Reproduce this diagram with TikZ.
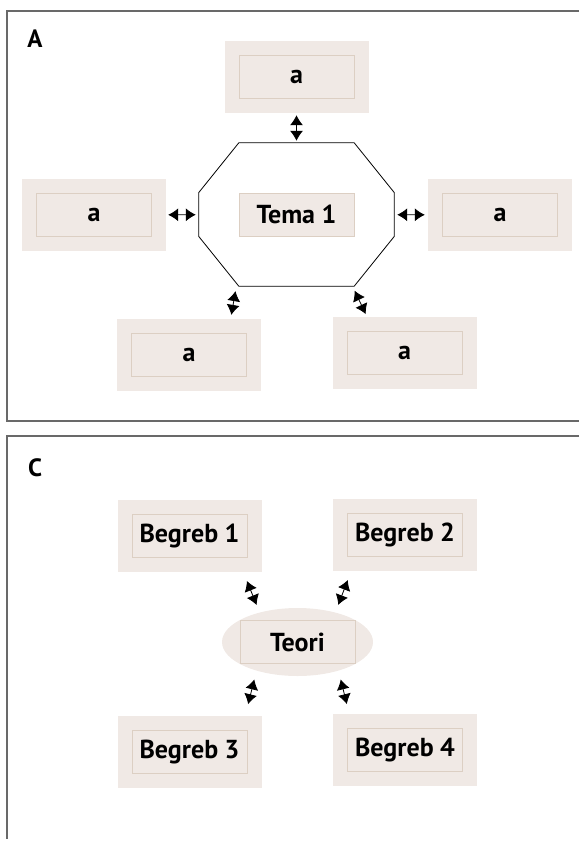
\documentclass[tikz,border=0pt]{standalone}
\usepackage{fontspec}
\setmainfont{PT Sans}
\usetikzlibrary{arrows.meta,calc,shapes.geometric}
\definecolor{boxfill}{RGB}{240,233,229}
\definecolor{boxline}{RGB}{220,207,195}
\definecolor{framegray}{RGB}{105,105,105}

\begin{document}
\begin{tikzpicture}[>={Latex[length=10pt,width=13pt]}, shorten >=2pt, shorten <=2pt,
	outer/.style={rectangle,fill=boxfill,minimum width=144pt,minimum height=72pt,inner sep=0pt},
	inner/.style={rectangle,draw=boxline,fill=boxfill,minimum width=115pt,minimum height=43pt,inner sep=0pt,font=\fontsize{26}{30}\selectfont\bfseries},
	panel/.style={font=\fontsize{25}{30}\selectfont\bfseries},
	frame/.style={draw=framegray,line width=1.5pt},
	link/.style={<->,line width=0.8pt},
	]
	
	\useasboundingbox (0pt,0pt) rectangle (581pt,-841pt);
	
	% panel A
	\draw[frame] (581pt,-11pt) -- (7pt,-11pt) -- (7pt,-421pt) -- (581pt,-421pt);
	\node[panel] (labA) at (35pt,-39pt) {A};
	\node[rectangle, minimum width=195pt, minimum height=143pt, inner sep=0pt] (oct) at (296.5pt,-214.5pt) {};
	\draw[line width=0.8pt] ($(oct.north west)+(40pt,0)$) -- ($(oct.north east)+(-40pt,0)$)
		-- ($(oct.east)+(0,22pt)$) -- ($(oct.east)+(0,-22pt)$)
		-- ($(oct.south east)+(-40pt,0)$) -- ($(oct.south west)+(40pt,0)$)
		-- ($(oct.west)+(0,-22pt)$) -- ($(oct.west)+(0,22pt)$) -- cycle;
	\node[inner] (tema) at (oct) {Tema 1};
	\node[outer] (top) at (296.5pt,-77pt) {};
	\node[inner] (topa) at (top) {a};
	\node[outer] (left) at (94pt,-215pt) {};
	\node[inner] (lefta) at (left) {a};
	\node[outer] (right) at (500pt,-215pt) {};
	\node[inner] (righta) at (right) {a};
	\node[outer] (bl) at (189pt,-355pt) {};
	\node[inner] (bla) at (bl) {a};
	\node[outer] (br) at (404.5pt,-353pt) {};
	\node[inner] (bra) at (br) {a};
	\draw[link] (top) -- (oct);
	\draw[link,shorten >=3pt] (left) -- (oct);
	\draw[link,shorten <=3pt,shorten >=3pt] (right) -- (oct);
	\draw[link,shorten <=5pt,shorten >=4pt] (oct.230) -- (bl.41);
	\draw[link,shorten <=5pt,shorten >=3pt] (oct.-52) -- (br.136);
	
	% panel C
	\draw[frame] (581pt,-436pt) -- (7pt,-436pt) -- (7pt,-841pt);
	\node[panel] (labC) at (35pt,-468pt) {C};
	\node[ellipse, fill=boxfill, minimum width=151pt, minimum height=68pt, inner sep=0pt] (teori) at (297.5pt,-642pt) {};
	\node[inner] (teoria) at (teori) {Teori};
	\node[outer] (b1) at (189.5pt,-535.5pt) {};
	\node[inner] (b1a) at (b1) {Begreb 1};
	\node[outer] (b2) at (405pt,-534.5pt) {};
	\node[inner] (b2a) at (b2) {Begreb 2};
	\node[outer] (b3) at (189.5pt,-752pt) {};
	\node[inner] (b3a) at (b3) {Begreb 3};
	\node[outer] (b4) at (405pt,-750pt) {};
	\node[inner] (b4a) at (b4) {Begreb 4};
	\draw[link,shorten <=8pt,shorten >=10pt] (teori.142) -- (b1.-34);
	\draw[link,shorten <=8pt,shorten >=10pt] (teori.38) -- (b2.-146);
	\draw[link,shorten <=9pt,shorten >=12pt] (teori.-145) -- (b3.33);
	\draw[link,shorten <=9pt,shorten >=10pt] (teori.-35) -- (b4.147);
\end{tikzpicture}
\end{document}
